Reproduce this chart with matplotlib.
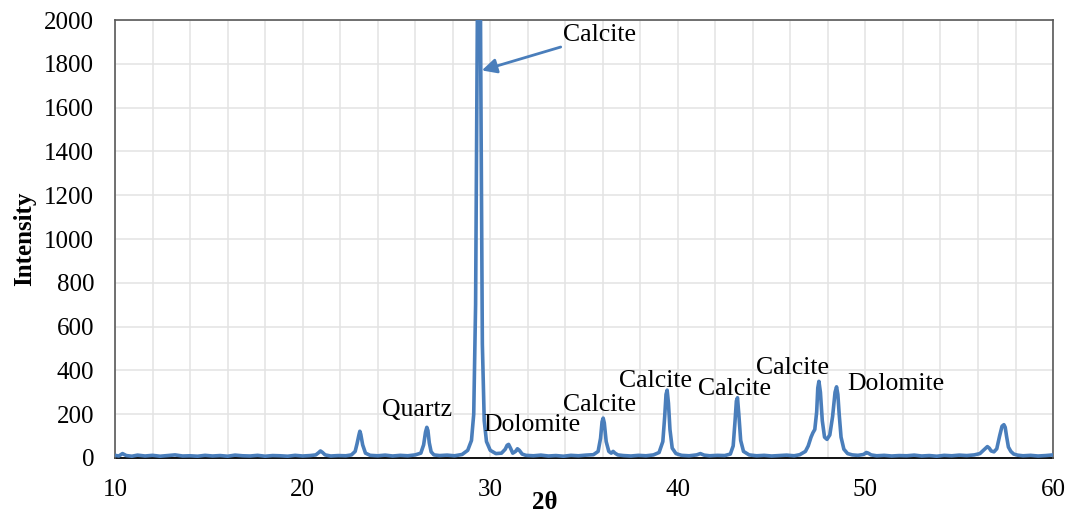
import matplotlib
matplotlib.use("Agg")
import matplotlib.pyplot as plt
from matplotlib.ticker import MultipleLocator

# XRD pattern, values (2theta in degrees, counts)
two_theta = [10.0, 10.2, 10.4, 10.6, 10.9, 11.2, 11.6, 12.0, 12.4, 12.8, 13.2, 13.6,
             14.0, 14.4, 14.8, 15.2, 15.6, 16.0, 16.4, 16.8, 17.2, 17.6, 18.0, 18.4,
             18.8, 19.2, 19.6, 20.0, 20.4, 20.7, 20.85, 20.95, 21.05, 21.2, 21.5, 21.9,
             22.3, 22.6, 22.8, 22.9, 23.0, 23.05, 23.1, 23.2, 23.35, 23.6, 24.0, 24.4,
             24.8, 25.2, 25.6, 26.0, 26.3, 26.45, 26.55, 26.62, 26.68, 26.75, 26.85, 27.0,
             27.3, 27.7, 28.1, 28.5, 28.8, 29.0, 29.12, 29.22, 29.3, 29.36, 29.4, 29.44,
             29.5, 29.58, 29.68, 29.8, 30.0, 30.3, 30.6, 30.8, 30.9, 30.98, 31.08, 31.2,
             31.35, 31.45, 31.55, 31.7, 31.9, 32.3, 32.7, 33.1, 33.5, 33.9, 34.3, 34.7,
             35.1, 35.5, 35.75, 35.88, 35.96, 36.02, 36.08, 36.18, 36.32, 36.45, 36.55, 36.65,
             36.8, 37.1, 37.5, 37.9, 38.3, 38.7, 39.0, 39.2, 39.3, 39.37, 39.43, 39.5,
             39.58, 39.7, 39.9, 40.2, 40.6, 41.0, 41.2, 41.4, 41.7, 42.1, 42.5, 42.8,
             42.95, 43.05, 43.12, 43.18, 43.25, 43.35, 43.5, 43.8, 44.2, 44.6, 45.0, 45.4,
             45.8, 46.2, 46.5, 46.8, 46.95, 47.1, 47.2, 47.3, 47.4, 47.46, 47.52, 47.6,
             47.7, 47.82, 47.95, 48.1, 48.25, 48.38, 48.46, 48.53, 48.6, 48.7, 48.85, 49.05,
             49.3, 49.6, 49.9, 50.05, 50.15, 50.3, 50.6, 51.0, 51.4, 51.8, 52.2, 52.6,
             53.0, 53.4, 53.8, 54.2, 54.6, 55.0, 55.4, 55.8, 56.1, 56.35, 56.5, 56.6,
             56.7, 56.85, 57.0, 57.15, 57.28, 57.38, 57.45, 57.52, 57.62, 57.75, 57.9, 58.1,
             58.4, 58.8, 59.2, 59.6, 60.0]
intensity = [12, 9, 20, 11, 8, 13, 9, 12, 8, 11, 14, 9,
             10, 8, 12, 9, 11, 8, 13, 10, 9, 12, 8, 11,
             10, 8, 12, 9, 11, 14, 24, 32, 26, 14, 9, 11,
             10, 14, 30, 65, 105, 122, 108, 60, 22, 12, 10, 13,
             9, 12, 10, 14, 22, 60, 118, 140, 125, 70, 28, 14,
             11, 13, 10, 16, 35, 80, 200, 700, 1800, 2700, 2900, 2700,
             1700, 520, 170, 75, 35, 20, 22, 40, 58, 62, 45, 22,
             30, 42, 35, 18, 12, 10, 13, 9, 11, 8, 12, 10,
             13, 15, 30, 90, 165, 182, 160, 75, 30, 22, 30, 22,
             14, 11, 9, 12, 10, 14, 25, 75, 190, 290, 310, 250,
             130, 45, 20, 12, 10, 14, 20, 13, 10, 12, 11, 18,
             55, 170, 260, 275, 200, 80, 30, 14, 10, 12, 9, 11,
             13, 10, 15, 30, 55, 95, 115, 130, 210, 320, 350, 300,
             170, 95, 85, 105, 190, 300, 325, 290, 200, 95, 40, 20,
             14, 12, 16, 25, 22, 14, 10, 12, 9, 11, 10, 13,
             9, 11, 8, 12, 10, 13, 11, 14, 20, 40, 52, 45,
             32, 28, 42, 100, 145, 152, 140, 100, 50, 30, 18, 13,
             10, 12, 9, 11, 14]

tick_x = [10, 20, 30, 40, 50, 60]
tick_y = [0, 200, 400, 600, 800, 1000, 1200, 1400, 1600, 1800, 2000]

# phase labels: (text, x, y)
label_text = ["Quartz", "Dolomite", "Calcite", "Calcite", "Calcite", "Calcite", "Dolomite"]
label_x = [26.1, 32.2, 35.8, 38.8, 43.0, 46.1, 51.6]
label_y = [220, 150, 240, 352, 315, 412, 340]

blue = "#4a7ebb"
serif = ["Liberation Serif", "DejaVu Serif"]

fig = plt.figure(figsize=(10.68, 5.14), dpi=100)
ax = fig.add_axes([0.1077, 0.109, 0.8783, 0.852])

ax.plot(two_theta, intensity, color=blue, lw=2.6, zorder=3, clip_on=True)

ax.set_xlim(10, 60)
ax.set_ylim(0, 2000)
ax.set_xticks(tick_x)
ax.set_yticks(tick_y)
ax.xaxis.set_minor_locator(MultipleLocator(2))
ax.grid(True, which="both", axis="x", color="#e3e3e3", lw=1.1, zorder=0)
ax.grid(True, which="major", axis="y", color="#e3e3e3", lw=1.1, zorder=0)
ax.tick_params(which="both", length=0, labelsize=18)
ax.tick_params(axis="y", pad=15)
ax.tick_params(axis="x", pad=15)
for lab in ax.get_xticklabels() + ax.get_yticklabels():
    lab.set_family(serif)

for side in ["left", "top", "right"]:
    ax.spines[side].set_color("#595959")
    ax.spines[side].set_linewidth(1.2)
ax.spines["bottom"].set_color("black")
ax.spines["bottom"].set_linewidth(1.3)
ax.spines["bottom"].set_zorder(2)

ax.set_ylabel("Intensity", family=serif, fontsize=18, fontweight="bold", labelpad=6)
fig.text(0.51, 0.0, "2θ", family=serif, fontsize=18, fontweight="bold",
         ha="center", va="bottom")

for t, x, y in zip(label_text, label_x, label_y):
    ax.text(x, y, t, family=serif, fontsize=18.5, ha="center", va="center", zorder=4)

ax.annotate("Calcite", xy=(29.55, 1770), xytext=(35.85, 1930),
            family=serif, fontsize=18.5, ha="center", va="center",
            arrowprops=dict(arrowstyle="-|>", color=blue, lw=2, mutation_scale=22,
                            shrinkA=0, shrinkB=0))

fig.savefig("out.png", dpi=100)
